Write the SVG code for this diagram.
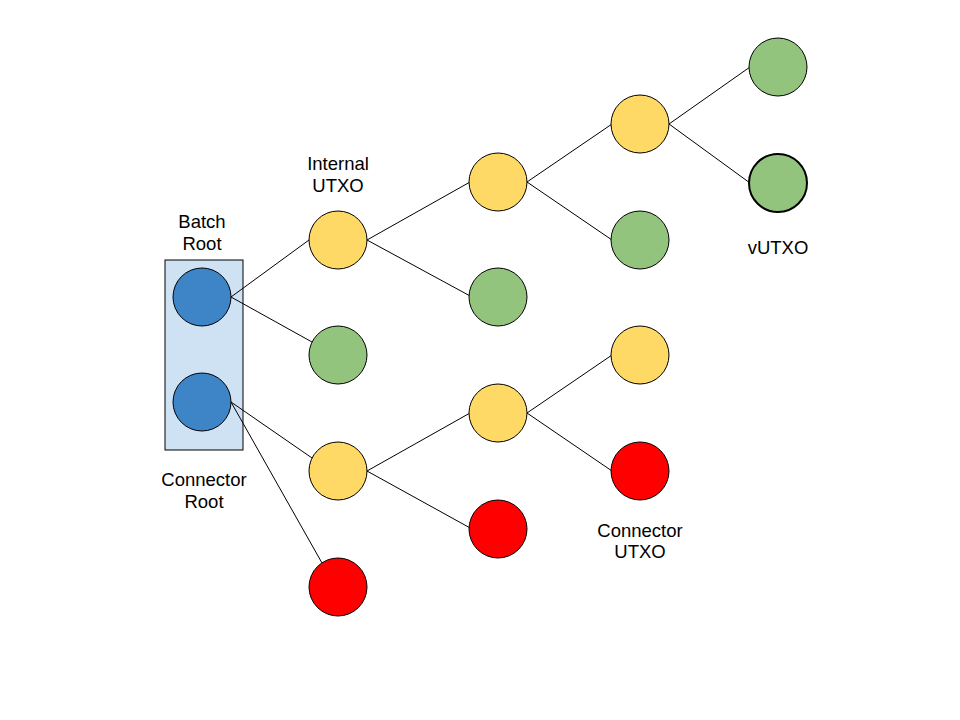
<svg xmlns="http://www.w3.org/2000/svg" width="960" height="720" viewBox="0 0 960 720">
<style>
.n{stroke:#000;stroke-width:1}
.b{fill:#3d85c6}.g{fill:#93c47d}.y{fill:#ffd966}.r{fill:#ff0000}
.e{stroke:#000;stroke-width:1;fill:none}
text{font-family:"Liberation Sans",Arial,sans-serif;font-size:18.5px;fill:#000;text-anchor:middle}
</style>
<rect width="960" height="720" fill="#fff"/>
<g id="box"><rect x="165" y="260" width="78" height="190" fill="#cfe2f3" stroke="#000" stroke-width="1"/></g>
<g id="connectors">
<line class="e" x1="231" y1="297" x2="309" y2="240"/>
<line class="e" x1="231" y1="297" x2="312" y2="342"/>
<line class="e" x1="231" y1="402" x2="312" y2="458"/>
<line class="e" x1="231" y1="402" x2="322" y2="563"/>
<line class="e" x1="367" y1="240" x2="470" y2="182"/>
<line class="e" x1="367" y1="240" x2="472" y2="297"/>
<line class="e" x1="367" y1="471" x2="470" y2="413"/>
<line class="e" x1="367" y1="471" x2="472" y2="529"/>
<line class="e" x1="527" y1="182" x2="612" y2="124"/>
<line class="e" x1="527" y1="182" x2="612" y2="240"/>
<line class="e" x1="527" y1="413" x2="612" y2="355"/>
<line class="e" x1="527" y1="413" x2="612" y2="471"/>
<line class="e" x1="669" y1="124" x2="750" y2="67"/>
<line class="e" x1="669" y1="124" x2="750" y2="183"/>
</g>
<g id="root1"><circle class="n b" cx="202" cy="297" r="29"/></g>
<g id="root2"><circle class="n b" cx="202" cy="402" r="29"/></g>
<g id="a1"><circle class="n y" cx="338" cy="240" r="29"/></g>
<g id="a2"><circle class="n g" cx="338" cy="355" r="29"/></g>
<g id="a3"><circle class="n y" cx="338" cy="471" r="29"/></g>
<g id="a4"><circle class="n r" cx="338" cy="587" r="29"/></g>
<g id="b1"><circle class="n y" cx="498" cy="182" r="29"/></g>
<g id="b2"><circle class="n g" cx="498" cy="297" r="29"/></g>
<g id="b3"><circle class="n y" cx="498" cy="413" r="29"/></g>
<g id="b4"><circle class="n r" cx="498" cy="529" r="29"/></g>
<g id="c1"><circle class="n y" cx="640" cy="124" r="29"/></g>
<g id="c2"><circle class="n g" cx="640" cy="240" r="29"/></g>
<g id="c3"><circle class="n y" cx="640" cy="355" r="29"/></g>
<g id="c4"><circle class="n r" cx="640" cy="471" r="29"/></g>
<g id="d1"><circle class="n g" cx="778" cy="67" r="29"/></g>
<g id="d2"><circle class="g" cx="778" cy="183" r="29" stroke="#000" stroke-width="2"/></g>
<g id="labels">
<text x="202" y="228">Batch</text><text x="202" y="250">Root</text>
<text x="338" y="170">Internal</text><text x="338" y="192">UTXO</text>
<text x="778" y="254">vUTXO</text>
<text x="204" y="486">Connector</text><text x="204" y="508">Root</text>
<text x="640" y="537">Connector</text><text x="640" y="558">UTXO</text>
</g>
</svg>
